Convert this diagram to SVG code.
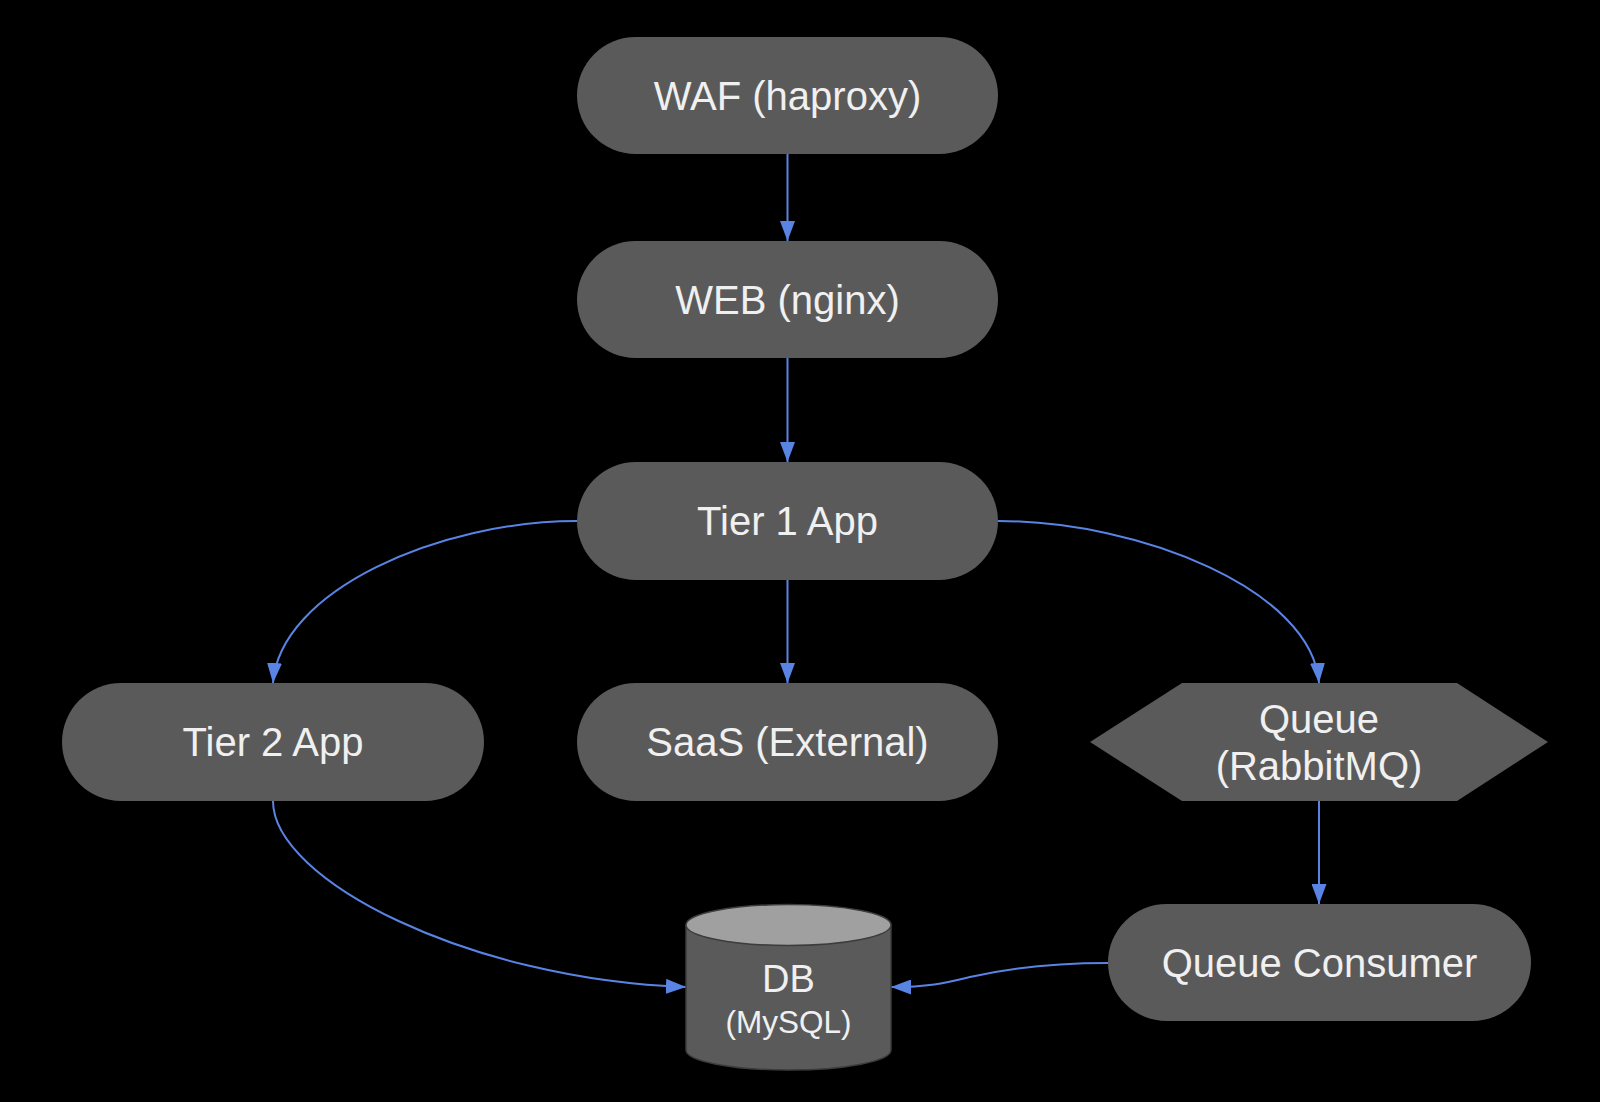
<svg xmlns="http://www.w3.org/2000/svg" width="1600" height="1102" viewBox="0 0 1600 1102">
<defs>
<style>
.node{fill:#5a5a5a;}
.lbl{font-family:"Liberation Sans",Arial,sans-serif;font-size:40px;fill:#f0f0f0;text-anchor:middle;}
.edge{fill:none;stroke:#5a84e4;stroke-width:2;}
</style>
<marker id="arr" markerUnits="userSpaceOnUse" markerWidth="20" markerHeight="15" refX="20" refY="7.5" orient="auto">
<path d="M0,0 L20,7.5 L0,15 Z" fill="#5a84e4"/>
</marker>
</defs>
<rect width="1600" height="1102" fill="#000"/>
<g id="edges">
<path class="edge" marker-end="url(#arr)" d="M787.5,154 L787.5,241"/>
<path class="edge" marker-end="url(#arr)" d="M787.5,358 L787.5,462"/>
<path class="edge" marker-end="url(#arr)" d="M787.5,580 L787.5,683"/>
<path class="edge" marker-end="url(#arr)" d="M577,521 C440,521 280,590 273,683"/>
<path class="edge" marker-end="url(#arr)" d="M998,521 C1140,521 1312,590 1319,683"/>
<path class="edge" marker-end="url(#arr)" d="M1319,801 L1319,904"/>
<path class="edge" marker-end="url(#arr)" d="M273,801 C273,880 470,980 686,987"/>
<path class="edge" marker-end="url(#arr)" d="M1108,963 C1040,963 1000,970 970,977 C945,983 930,987 891,987"/>
</g>
<g id="waf">
<rect class="node" x="577" y="37" width="421" height="117" rx="58.5"/>
<text class="lbl" x="787.5" y="109.5">WAF (haproxy)</text>
</g>
<g id="web">
<rect class="node" x="577" y="241" width="421" height="117" rx="58.5"/>
<text class="lbl" x="787.5" y="313.5">WEB (nginx)</text>
</g>
<g id="tier1">
<rect class="node" x="577" y="462" width="421" height="118" rx="59"/>
<text class="lbl" x="787.5" y="535">Tier 1 App</text>
</g>
<g id="tier2">
<rect class="node" x="62" y="683" width="422" height="118" rx="59"/>
<text class="lbl" x="273" y="755.5">Tier 2 App</text>
</g>
<g id="saas">
<rect class="node" x="577" y="683" width="421" height="118" rx="59"/>
<text class="lbl" x="787.5" y="755.5">SaaS (External)</text>
</g>
<g id="queue">
<polygon class="node" points="1090,742 1182,683 1457,683 1548,742 1457,801 1182,801"/>
<text class="lbl" x="1319" y="732.5">Queue</text>
<text class="lbl" x="1319" y="780">(RabbitMQ)</text>
</g>
<g id="consumer">
<rect class="node" x="1108" y="904" width="423" height="117" rx="58.5"/>
<text class="lbl" x="1319.5" y="976.5">Queue Consumer</text>
</g>
<g id="db">
<path d="M686,925 L686,1050 A102.5,20 0 0 0 891,1050 L891,925 Z" fill="#5a5a5a" stroke="#3c3c3c" stroke-width="1.5"/>
<ellipse cx="788.5" cy="925" rx="102.5" ry="20.5" fill="#a0a0a0" stroke="#3c3c3c" stroke-width="1.5"/>
<text class="lbl" x="788.5" y="992" style="font-size:38px">DB</text>
<text class="lbl" x="788.5" y="1032.5" style="font-size:31.5px">(MySQL)</text>
</g>
</svg>
